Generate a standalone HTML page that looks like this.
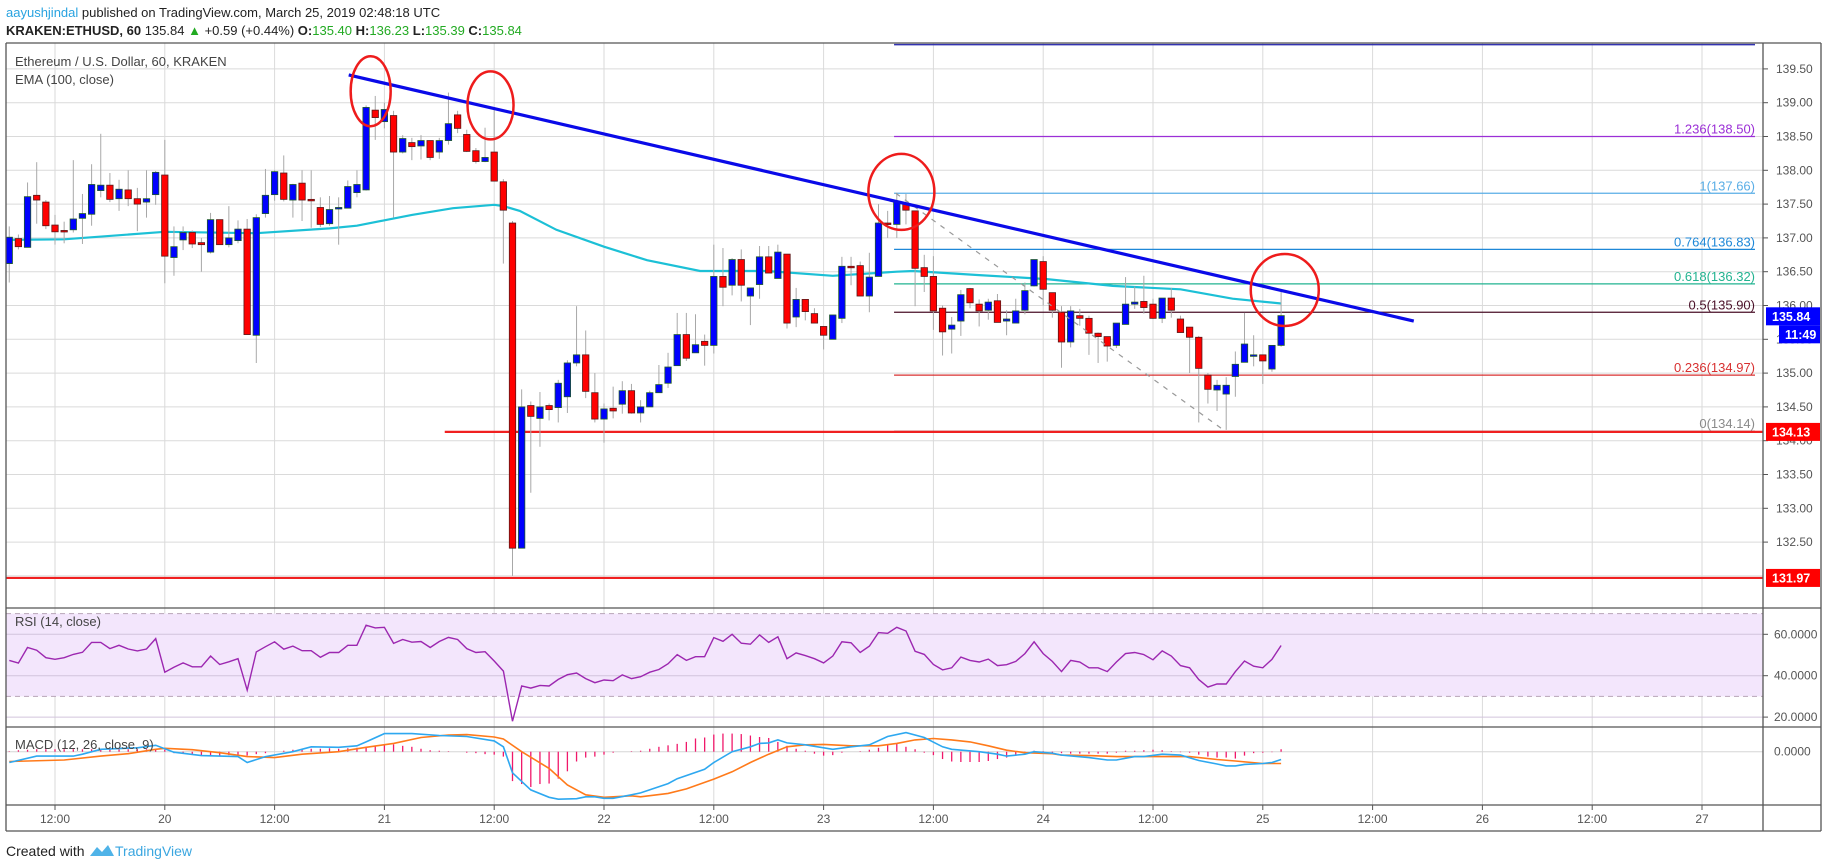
<!DOCTYPE html>
<html><head><meta charset="utf-8"><title>ETHUSD chart</title>
<style>
html,body{margin:0;padding:0;background:#fff;}
svg{display:block;font-family:"Liberation Sans",sans-serif;}
</style></head>
<body>
<svg id="chart" width="1828" height="868" viewBox="0 0 1828 868" xmlns="http://www.w3.org/2000/svg">
<rect x="0" y="0" width="1828" height="868" fill="#fff"/>
<text x="6" y="17" font-size="13" fill="#222"><tspan fill="#29a3e0">aayushjindal</tspan> published on TradingView.com, March 25, 2019 02:48:18 UTC</text>
<text x="6" y="35" font-size="13" fill="#222"><tspan font-weight="bold">KRAKEN:ETHUSD, 60</tspan> 135.84 <tspan fill="#22aa22">▲</tspan> +0.59 (+0.44%) <tspan font-weight="bold">O:</tspan><tspan fill="#22aa22">135.40</tspan> <tspan font-weight="bold">H:</tspan><tspan fill="#22aa22">136.23</tspan> <tspan font-weight="bold">L:</tspan><tspan fill="#22aa22">135.39</tspan> <tspan font-weight="bold">C:</tspan><tspan fill="#22aa22">135.84</tspan></text>
<g id="grid"></g>
<g id="overlays"></g>
<g id="candles"></g>
<g id="annot"></g>
<g id="rsi"></g>
<g id="macd"></g>
<g id="axes"></g>
<text x="15" y="66" font-size="13" fill="#444">Ethereum / U.S. Dollar, 60, KRAKEN</text>
<text x="15" y="84" font-size="13" fill="#444">EMA (100, close)</text>
<text x="15" y="626" font-size="13" fill="#444">RSI (14, close)</text>
<text x="15" y="749" font-size="13" fill="#444">MACD (12, 26, close, 9)</text>
<text x="6" y="856" font-size="14" fill="#222">Created with</text>
<path d="M90 856 L97 847 L102 852 L108 845 L114 856 Z" fill="#4fb3e8"/>
<text x="115" y="856" font-size="14" fill="#3aa6e0">TradingView</text>
</svg>
<script>
// ---- data ----
const startHour = 7; // first candle: Mar 19 07:00
const opens = [136.62,136.99,136.86,137.63,137.53,137.19,137.11,137.12,137.29,137.35,
137.70,137.78,137.58,137.71,137.58,137.53,137.64,137.93,136.71,136.97,
137.08,136.93,136.79,137.27,136.90,136.96,137.13,135.56,137.36,137.64,
137.96,137.56,137.81,137.57,137.45,137.21,137.43,137.44,137.67,137.71,
138.89,138.72,138.81,138.27,138.41,138.36,138.44,138.27,138.44,138.82,
138.53,138.29,138.13,138.27,137.83,137.22,132.41,134.52,134.33,134.52,
134.49,134.65,135.15,135.27,134.71,134.32,134.48,134.54,134.74,134.41,
134.50,134.71,134.85,135.11,135.57,135.30,135.47,135.41,136.43,136.30,
136.68,136.14,136.31,136.72,136.40,136.76,135.83,136.09,135.88,135.69,
135.50,135.81,136.58,136.59,136.14,136.43,137.22,137.20,137.51,137.40,
136.56,136.43,135.96,135.65,135.77,136.25,136.02,135.93,136.07,135.77,
135.74,135.93,136.29,136.65,136.19,135.90,135.46,135.85,135.81,135.59,
135.54,135.41,135.72,136.02,136.06,136.02,135.81,136.11,135.80,135.68,
135.53,134.97,134.75,134.69,134.95,135.16,135.26,135.27,135.06,135.41];
const closes = [137.01,136.87,137.61,137.56,137.18,137.09,137.10,137.28,137.36,137.79,
137.78,137.57,137.72,137.58,137.50,137.58,137.97,136.73,136.87,137.08,
136.91,136.90,137.27,136.90,137.00,137.13,135.57,137.30,137.63,137.98,
137.57,137.79,137.56,137.55,137.20,137.42,137.45,137.76,137.79,138.93,
138.78,138.90,138.27,138.47,138.35,138.44,138.19,138.44,138.69,138.62,
138.28,138.13,138.19,137.84,137.41,132.41,134.50,134.36,134.50,134.46,
134.85,135.15,135.27,134.73,134.32,134.47,134.44,134.74,134.41,134.50,
134.71,134.83,135.09,135.57,135.22,135.42,135.41,136.43,136.27,136.68,
136.30,136.26,136.72,136.48,136.79,135.74,136.09,135.91,135.74,135.56,
135.86,136.58,136.56,136.14,136.42,137.22,137.20,137.54,137.41,136.55,
136.43,135.92,135.61,135.71,136.16,136.04,135.92,136.05,135.75,135.80,
135.92,136.22,136.68,136.24,135.93,135.46,135.92,135.81,135.59,135.54,
135.40,135.74,136.02,136.05,135.97,135.81,136.11,135.93,135.60,135.53,
135.07,134.76,134.82,134.82,135.13,135.43,135.27,135.18,135.41,135.85];
const highs = [137.17,137.05,137.82,138.12,137.56,137.34,137.24,138.15,137.65,138.09,
138.54,137.96,137.86,138.00,137.74,138.00,137.99,138.45,137.17,137.17,
137.11,137.00,137.37,137.27,137.47,137.26,137.28,137.35,138.02,138.00,
138.22,137.80,138.00,138.00,137.60,137.62,137.60,137.85,138.00,138.96,
139.10,139.00,138.88,138.52,138.48,138.52,138.44,138.48,139.15,138.88,
138.60,138.33,138.63,138.89,137.87,137.25,134.76,134.58,134.72,134.55,
134.90,135.19,135.99,135.63,135.00,134.55,134.80,134.88,134.84,134.60,
134.74,135.12,135.30,135.89,135.89,135.87,135.57,136.90,136.85,136.70,
136.83,136.26,136.88,136.88,136.90,136.76,136.26,136.09,135.96,135.69,
135.86,136.72,136.72,136.65,136.78,137.50,137.40,137.66,137.65,137.40,
136.75,136.73,136.00,135.83,136.23,136.26,136.09,136.10,136.17,135.93,
136.10,136.34,136.68,136.73,136.19,135.99,135.99,135.95,135.85,135.60,
135.54,135.74,136.42,136.28,136.44,136.10,136.11,136.26,135.85,135.68,
135.55,135.00,134.90,134.94,135.32,135.89,135.56,135.27,135.41,136.23];
const lows = [136.34,136.83,136.86,137.21,137.13,136.90,136.92,137.08,136.91,137.18,
137.60,137.53,137.40,137.47,137.10,137.30,137.49,136.33,136.44,136.82,
136.85,136.50,136.77,136.90,136.86,136.92,135.57,135.15,137.30,137.55,
137.54,137.30,137.25,137.15,137.16,137.18,136.90,137.44,137.60,137.70,
138.45,138.62,137.30,138.25,138.15,138.16,138.15,138.17,138.38,138.55,
138.27,138.10,138.12,137.84,136.62,132.00,132.41,133.23,133.91,134.30,
134.27,134.41,135.10,134.63,134.27,133.97,134.33,134.40,134.40,134.27,
134.50,134.71,134.78,135.11,135.18,135.30,135.11,135.29,135.99,136.15,
136.06,135.71,136.10,136.48,136.40,135.66,135.68,135.78,135.74,135.35,
135.50,135.74,136.30,136.14,135.90,136.43,137.00,137.00,137.20,135.99,
136.20,135.64,135.26,135.29,135.55,135.96,135.69,135.79,135.75,135.56,
135.74,135.87,136.28,136.00,135.82,135.08,135.38,135.70,135.27,135.15,
135.17,135.37,135.72,135.95,135.88,135.80,135.74,135.82,135.60,135.00,
134.27,134.55,134.44,134.16,134.65,135.16,135.10,134.84,135.02,135.39];
const emaHours = [7,13,24,34,42,45,48,51,55.5,60,61,62.8,66.8,72,76.7,82.5,89.8,97,104,105.8,113,120.4,127.6,135,140.7,146];
const emaValues = [136.97,136.98,137.09,137.07,137.14,137.18,137.26,137.34,137.44,137.49,137.47,137.40,137.12,136.87,136.67,136.51,136.51,136.44,136.50,136.51,136.45,136.39,136.29,136.24,136.10,136.03];
const rsiValues = [47.4,46.1,53.6,52.3,48.7,47.9,48.7,50.3,51.3,56.1,
56.1,53.1,54.7,52.9,52.0,52.9,57.9,41.7,44.1,46.2,
44.3,44.3,49.5,45.4,46.7,48.2,33.0,51.5,54.0,56.4,
52.8,54.3,52.1,52.1,48.9,51.2,51.2,54.7,54.7,64.4,
63.1,63.4,55.6,57.5,56.2,56.5,53.6,56.5,58.5,57.5,
53.1,51.2,51.6,47.1,42.2,18.0,35.0,34.0,35.3,35.0,
38.2,40.5,41.3,38.6,36.6,37.9,37.6,40.4,38.6,
39.5,41.7,43.0,45.8,50.2,47.4,49.2,49.2,58.4,56.6,
60.0,55.7,55.2,59.7,56.1,58.8,48.2,51.0,49.7,48.2,
46.2,49.5,56.4,55.9,51.2,54.3,60.8,60.5,63.4,61.6,
51.8,50.3,45.4,42.8,43.8,49.0,47.4,46.6,48.0,44.9,
45.3,46.9,50.7,56.4,50.7,46.9,42.0,47.4,46.6,43.8,
43.8,42.0,46.6,50.7,51.2,50.2,47.7,52.0,49.5,44.9,
43.8,38.1,34.5,36.0,36.0,42.0,47.1,44.6,43.8,47.9,54.6];
const macdIdx = [1,4,8,9,11,15,17,19,22,26,27,29,32,34,37,39,40,42,45,48,51,54,55,56,58,60,61,63,64,65,66,67,69,70,73,74,77,78,80,82,83,84,85,86,88,91,93,95,97,99,101,103,104,107,109,110,112,113,115,116,119,121,122,124,125,127,129,131,133,134,135,136,138,139,140];
const macdValues = [-0.22,-0.09,-0.09,-0.05,0.05,0.08,0.13,-0.01,-0.08,-0.10,-0.22,-0.10,0.0,0.10,0.09,0.12,0.20,0.37,0.37,0.33,0.31,0.22,0.10,-0.43,-0.78,-0.93,-0.97,-0.96,-0.92,-0.92,-0.95,-0.95,-0.88,-0.84,-0.65,-0.55,-0.36,-0.22,0.0,0.10,0.17,0.18,0.24,0.18,0.14,0.05,0.10,0.14,0.31,0.39,0.29,0.10,0.05,0.0,-0.05,-0.09,-0.05,0.0,-0.03,-0.07,-0.12,-0.17,-0.17,-0.10,-0.10,-0.05,-0.07,-0.18,-0.25,-0.29,-0.29,-0.26,-0.24,-0.22,-0.16];
const signalIdx = [1,7,11,14,17,18,21,24,27,30,33,37,40,43,46,49,51,54,55,57,60,62,64,66,69,70,73,75,78,80,82,84,86,88,90,93,96,98,100,102,104,106,108,110,112,115,116,119,122,125,128,130,133,135,138,140];
const signalValues = [-0.20,-0.17,-0.09,-0.04,0.05,0.07,0.04,-0.02,-0.10,-0.12,-0.05,0.0,0.09,0.17,0.29,0.34,0.35,0.30,0.26,0.0,-0.34,-0.68,-0.88,-0.93,-0.90,-0.92,-0.85,-0.76,-0.56,-0.41,-0.22,-0.05,0.10,0.14,0.15,0.12,0.12,0.17,0.24,0.27,0.24,0.20,0.12,0.03,-0.02,-0.04,-0.07,-0.08,-0.10,-0.10,-0.10,-0.10,-0.16,-0.19,-0.24,-0.24];
const histValues = [0.01,0.03,0.04,0.05,0.05,0.05,0.05,0.05,0.05,0.05,
0.05,0.05,0.05,0.05,0.05,0.05,0.05,0.04,-0.03,-0.04,
-0.06,-0.07,-0.08,-0.08,-0.07,-0.06,-0.08,-0.05,-0.03,0.0,
0.02,0.04,0.05,0.06,0.06,0.07,0.06,0.07,0.08,0.10,
0.12,0.14,0.15,0.12,0.10,0.06,0.03,0.02,0.01,0.0,
-0.02,-0.03,-0.05,-0.06,-0.10,-0.60,-0.66,-0.72,-0.66,-0.65,
-0.55,-0.40,-0.20,-0.12,-0.10,-0.06,-0.02,0.0,0.01,0.02,
0.06,0.10,0.13,0.16,0.20,0.27,0.29,0.35,0.37,0.37,
0.36,0.33,0.30,0.28,0.20,0.12,0.06,0.02,-0.04,-0.08,
-0.07,-0.02,0.0,0.01,0.04,0.08,0.15,0.16,0.10,0.05,
-0.02,-0.07,-0.15,-0.20,-0.21,-0.21,-0.21,-0.19,-0.15,-0.12,
-0.08,-0.03,0.02,0.01,-0.02,-0.03,-0.04,-0.04,-0.04,-0.04,
-0.04,-0.02,0.02,0.02,0.03,0.04,0.03,0.01,-0.01,-0.02,
-0.06,-0.10,-0.12,-0.12,-0.14,-0.08,-0.03,-0.02,-0.01,0.05];
const priceTicks = [139.5,139,138.5,138,137.5,137,136.5,136,135.5,135,134.5,134,133.5,133,132.5];
const rsiTicks = [60,40,20];
const timeTickHours = [12,24,36,48,60,72,84,96,108,120,132,144,156,168,180,192];
const timeTickLabels = ["12:00","20","12:00","21","12:00","22","12:00","23","12:00","24","12:00","25","12:00","26","12:00","27"];
const fibLevels = ["1.236","1","0.764","0.618","0.5","0.236","0"];
const fibPrices = [138.50,137.66,136.83,136.32,135.90,134.97,134.14];
const fibStartHour = 103.7;
const topLinePrice = 139.86;
const trendHours = [44.1,160.5];
const trendPrices = [139.41,135.77];
const circleHours = [46.5,59.6,104.5,146.4];
const circlePrices = [139.17,138.96,137.68,136.23];
const dashHours = [103.9,139.9];
const dashPrices = [137.66,134.14];
const supportPrice1 = 134.13, supportStartHour = 57;
const supportPrice2 = 131.97;
const lastPrice = 135.84;

// ---- scales ----
const L = 6, R = 1763, RO = 1821;
const xH = h => 55 + (h - 12) * 9.15;
const xN = n => xH(startHour + n - 1);
const yP = p => 102.7 + (139 - p) * 67.6;
const yR = r => 634.3 + (60 - r) * 2.07;
const yM = v => 751.7 - v * 49;
const NS = "http://www.w3.org/2000/svg";
function mk(parent, tag, attrs) {
  const e = document.createElementNS(NS, tag);
  for (const k in attrs) e.setAttribute(k, attrs[k]);
  parent.appendChild(e);
  return e;
}
const G = id => document.getElementById(id);
const grid = G('grid'), ov = G('overlays'), cg = G('candles'), an = G('annot'), rg = G('rsi'), mg = G('macd'), ax = G('axes');

// grid
timeTickHours.forEach(h => {
  const l = mk(grid, 'line', {x1: xH(h), x2: xH(h), y1: 43, y2: 805, stroke: '#dadada', 'stroke-width': 1});
  
  
});
priceTicks.concat([132]).forEach(p => {
  const l = mk(grid, 'line', {x1: L, x2: R, y1: yP(p), y2: yP(p), stroke: '#dadada', 'stroke-width': 1});
  
  
});
// RSI background band
const band = mk(rg, 'rect', {x: L, y: yR(70), width: R - L, height: yR(30) - yR(70), fill: '#f3e6fc'});


rsiTicks.forEach(r => {
  const l = mk(rg, 'line', {x1: L, x2: R, y1: yR(r), y2: yR(r), stroke: '#d2c4dc', 'stroke-width': 1});
  
  
});
[70, 30].forEach(r => {
  const l = mk(rg, 'line', {x1: L, x2: R, y1: yR(r), y2: yR(r), stroke: '#b8a4b8', 'stroke-width': 1, 'stroke-dasharray': '5,4'});
  
  
});
const mz = mk(mg, 'line', {x1: L, x2: R, y1: yM(0), y2: yM(0), stroke: '#d6d6d6', 'stroke-width': 1});



// fib + horizontal lines
const fibColors = ['#9b2fd6', '#5aaee6', '#1e88d8', '#22b390', '#4a1028', '#d83030', '#8a8a8a'];
const topL = mk(ov, 'line', {x1: xH(fibStartHour), x2: 1755, y1: yP(topLinePrice), y2: yP(topLinePrice), stroke: '#3333b0', 'stroke-width': 1.5});


fibPrices.forEach((p, i) => {
  const l = mk(ov, 'line', {x1: xH(fibStartHour), x2: 1755, y1: yP(p), y2: yP(p), stroke: fibColors[i], 'stroke-width': 1.3});
  
  
  const t = mk(ov, 'text', {x: 1755, y: yP(p) - 3, 'text-anchor': 'end', 'font-size': 13, fill: fibColors[i]});
  t.textContent = fibLevels[i] + '(' + p.toFixed(2) + ')';
  
  
});
const s1 = mk(ov, 'line', {x1: xH(supportStartHour) - 22, x2: R, y1: yP(supportPrice1), y2: yP(supportPrice1), stroke: '#f02020', 'stroke-width': 2.2});


const s2 = mk(ov, 'line', {x1: L, x2: R, y1: yP(supportPrice2), y2: yP(supportPrice2), stroke: '#f02020', 'stroke-width': 2.2});



// EMA
const emaPts = emaHours.map((h, i) => xH(h).toFixed(1) + ',' + yP(emaValues[i]).toFixed(1)).join(' ');
const ema = mk(ov, 'polyline', {points: emaPts, fill: 'none', stroke: '#1cc0d6', 'stroke-width': 2.2});



// candles
opens.forEach((o, i) => {
  const n = i + 1, x = xN(n), c = closes[i], up = c >= o;
  const w = mk(cg, 'line', {x1: x, x2: x, y1: yP(highs[i]), y2: yP(lows[i]), stroke: '#a8a8a8', 'stroke-width': 1});
  
  
  const top = yP(Math.max(o, c)), bot = yP(Math.min(o, c));
  const b = mk(cg, 'rect', {x: x - 3.2, y: top, width: 6.4, height: Math.max(1.5, bot - top), fill: up ? '#0000ff' : '#ff0000', stroke: up ? '#1f5a2a' : '#5a1818', 'stroke-width': 0.8});
  
  
});

// annotations
const dl = mk(an, 'line', {x1: xH(dashHours[0]), y1: yP(dashPrices[0]), x2: xH(dashHours[1]), y2: yP(dashPrices[1]), stroke: '#999', 'stroke-width': 1.2, 'stroke-dasharray': '5,6'});


const tl = mk(an, 'line', {x1: xH(trendHours[0]), y1: yP(trendPrices[0]), x2: xH(trendHours[1]), y2: yP(trendPrices[1]), stroke: '#0a0ae8', 'stroke-width': 3.2});


const radii = [[20, 35], [23, 34], [33, 38], [34, 36]];
circleHours.forEach((h, i) => {
  const e = mk(an, 'ellipse', {cx: xH(h), cy: yP(circlePrices[i]), rx: radii[i][0], ry: radii[i][1], fill: 'none', stroke: '#ee1c1c', 'stroke-width': 2.5});
  
  
});

// RSI line
const rsiPts = rsiValues.map((r, i) => xN(i + 1).toFixed(1) + ',' + yR(r).toFixed(1)).join(' ');
const rl = mk(rg, 'polyline', {points: rsiPts, fill: 'none', stroke: '#9c27b0', 'stroke-width': 1.4});



// MACD
histValues.forEach((v, i) => {
  const x = xN(i + 1);
  const h = mk(mg, 'line', {x1: x, x2: x, y1: yM(0), y2: yM(v), stroke: '#f0186a', 'stroke-width': 1.3});
  
  
});
const sigPts = signalIdx.map((n, i) => xN(n).toFixed(1) + ',' + yM(signalValues[i]).toFixed(1)).join(' ');
const sl = mk(mg, 'polyline', {points: sigPts, fill: 'none', stroke: '#ff7a1a', 'stroke-width': 1.6});


const macdPts = macdIdx.map((n, i) => xN(n).toFixed(1) + ',' + yM(macdValues[i]).toFixed(1)).join(' ');
const ml = mk(mg, 'polyline', {points: macdPts, fill: 'none', stroke: '#2ea8f0', 'stroke-width': 1.6});



// frames
[[L, 43, RO, 43], [L, 831, RO, 831], [L, 43, L, 831], [RO, 43, RO, 831], [R, 43, R, 831],
 [L, 608, RO, 608], [L, 727, RO, 727], [L, 805, RO, 805]].forEach(s => {
  const l = mk(ax, 'line', {x1: s[0], y1: s[1], x2: s[2], y2: s[3], stroke: '#555', 'stroke-width': 1.3});
  
  
});
// price axis
priceTicks.forEach(p => {
  const tk = mk(ax, 'line', {x1: R, x2: R + 5, y1: yP(p), y2: yP(p), stroke: '#555'});
  
  
  const t = mk(ax, 'text', {x: 1776, y: yP(p) + 4, 'font-size': 12, fill: '#555'});
  t.textContent = p.toFixed(2);
  
  
});
rsiTicks.forEach(r => {
  const tk = mk(ax, 'line', {x1: R, x2: R + 5, y1: yR(r), y2: yR(r), stroke: '#555'});
  
  
  const t = mk(ax, 'text', {x: 1774, y: yR(r) + 4, 'font-size': 12, fill: '#555'});
  t.textContent = r.toFixed(4);
  
  
});
const mt = mk(ax, 'text', {x: 1774, y: yM(0) + 4, 'font-size': 12, fill: '#555'});
mt.textContent = '0.0000';


// time axis
timeTickHours.forEach((h, i) => {
  const tk = mk(ax, 'line', {x1: xH(h), x2: xH(h), y1: 805, y2: 810, stroke: '#555'});
  
  
  const t = mk(ax, 'text', {x: xH(h), y: 823, 'text-anchor': 'middle', 'font-size': 12, fill: '#555'});
  t.textContent = timeTickLabels[i];
  
  
});
// price tags
function tag(p, color, label, name, x0, dy) {
  const y = yP(p) + (dy || 0);
  const r = mk(ax, 'rect', {x: x0, y: y - 9, width: 1820 - x0, height: 18, fill: color});
  
  
  const t = mk(ax, 'text', {x: x0 + 6, y: y + 4.5, 'font-size': 12.5, 'font-weight': 'bold', fill: '#fff'});
  t.textContent = label;
  
  
}
tag(lastPrice, '#0000ff', lastPrice.toFixed(2), 'last-price-tag', 1766, 0);
tag(lastPrice, '#0000ff', '11:49', 'countdown-tag', 1779, 18);
tag(supportPrice1, '#ff0000', supportPrice1.toFixed(2), 'support-134-tag', 1766, 0);
tag(supportPrice2, '#ff0000', supportPrice2.toFixed(2), 'support-132-tag', 1766, 0);
</script>
</body></html>
